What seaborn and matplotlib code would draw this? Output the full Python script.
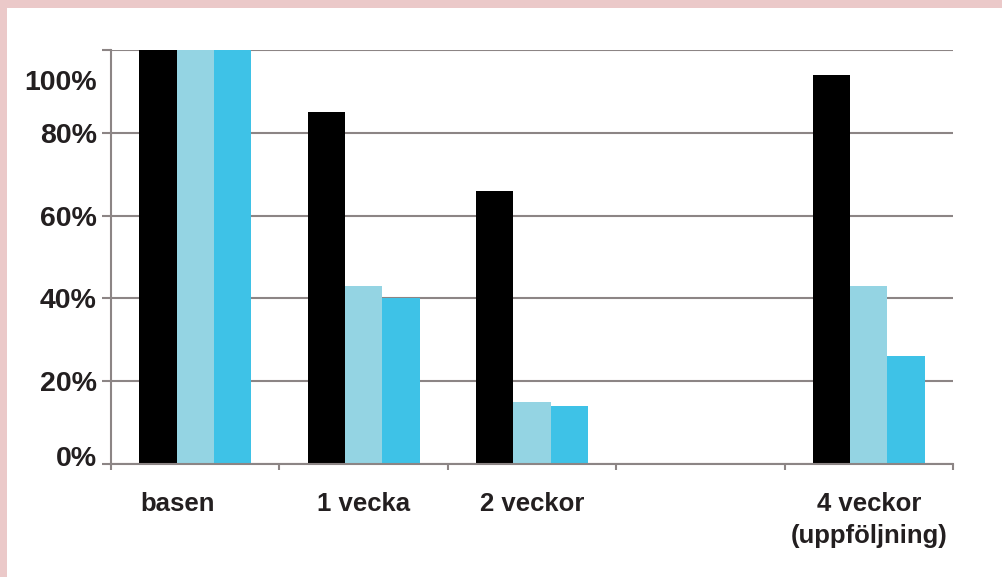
import matplotlib
matplotlib.use("Agg")
import matplotlib.pyplot as plt
import matplotlib.transforms as mtransforms
import seaborn as sns
import pandas as pd
import numpy as np

categories = ["basen", "1 vecka", "2 veckor", "", "4 veckor\n(uppföljning)"]
series = ["Serie 1", "Serie 2", "Serie 3"]
serie1 = [100, 85, 66, None, 94]
serie2 = [100, 43, 15, None, 43]
serie3 = [100, 40, 14, None, 26]
ytick_values = [0, 20, 40, 60, 80, 100]
ytick_labels = ["0%", "20%", "40%", "60%", "80%", "100%"]
colors = ["#000000", "#94d4e3", "#3ec2e7"]

rows = []
for cat, a, b, c in zip(categories, serie1, serie2, serie3):
    for s, v in zip(series, (a, b, c)):
        if v is not None:
            rows.append({"cat": cat, "serie": s, "val": v})
df = pd.DataFrame(rows)

sns.set_theme(style="white")
plt.rcParams["font.family"] = ["Liberation Sans", "DejaVu Sans"]

W, H = 1002, 577
PX = 72 / 100  # points per pixel
fig = plt.figure(figsize=(W / 100, H / 100), dpi=100)
fig.patch.set_facecolor("#ebc9c9")
# white panel
fig.patches.append(plt.Rectangle((7 / W, 0), 1, 1 - 8 / H, transform=fig.transFigure,
                                 facecolor="white", edgecolor="none", zorder=-5))

ax = fig.add_axes([111 / W, 1 - 464 / H, 842 / W, 414 / H])
ax.set_facecolor("none")
ax.set_zorder(2)

sns.barplot(data=df, x="cat", y="val", hue="serie", order=categories,
            hue_order=series, palette=colors, width=0.665, saturation=1,
            ax=ax, legend=False, errorbar=None, linewidth=0, edgecolor="none")

ax.set_xlim(-0.5, len(categories) - 0.5)
ax.set_ylim(0, 100)
ax.set_xlabel("")
ax.set_ylabel("")

gridc = "#8c8585"
ax.set_yticks(ytick_values)
ax.set_yticklabels(ytick_labels)
ax.yaxis.grid(True, color=gridc, linewidth=1.5)
ax.set_axisbelow(True)
ax.tick_params(axis="y", length=9 * PX, width=1.5, color=gridc, pad=5 * PX, left=True,
               labelsize=20.5, labelcolor="#231f20")
ylabs = ax.get_yticklabels()
for lab in ylabs:
    lab.set_fontweight("bold")
# label offsets seen in the reference (pixels)
yoff = {0: 8, 5: -30}
for i, d in yoff.items():
    ylabs[i].set_transform(ylabs[i].get_transform() +
                           mtransforms.ScaledTranslation(0, d / 100, fig.dpi_scale_trans))

# x ticks: marks at category boundaries, labels at centres
ax.set_xticks(np.arange(-0.5, len(categories), 1.0))
ax.set_xticklabels([])
ax.set_xticks(np.arange(len(categories)), minor=True)
ax.set_xticklabels(categories, minor=True, fontsize=18.5, fontweight="bold",
                   color="#231f20", linespacing=1.45)
ax.tick_params(axis="x", which="major", length=6 * PX, width=1.5, color=gridc, bottom=True)
ax.tick_params(axis="x", which="minor", length=0, pad=20)
xlabs = ax.get_xticklabels(minor=True)
xoff = {0: -18}
for i, d in xoff.items():
    xlabs[i].set_transform(xlabs[i].get_transform() +
                           mtransforms.ScaledTranslation(d / 100, 0, fig.dpi_scale_trans))

for side in ["top", "right"]:
    ax.spines[side].set_visible(False)
for side in ["left", "bottom"]:
    ax.spines[side].set_color(gridc)
    ax.spines[side].set_linewidth(1.5)

fig.savefig("out.png", dpi=100)
